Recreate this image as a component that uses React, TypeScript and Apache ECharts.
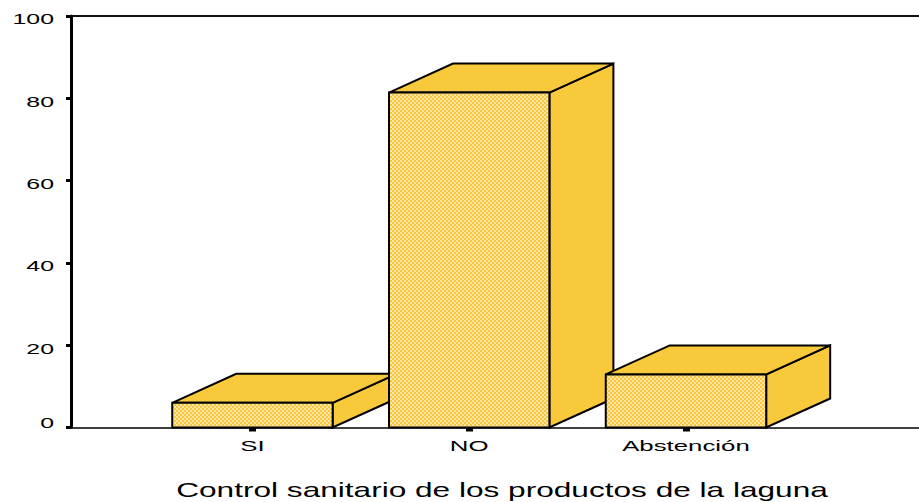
import React, { useEffect, useRef } from "react";
import * as echarts from "echarts";

const categories = ["SI", "NO", "Abstención"];
const values = [6.0, 81.4, 12.9];
const yTicks = [0, 20, 40, 60, 80, 100];
const axisTitle = "Control sanitario de los productos de la laguna";

const FONT = "Liberation Sans, Arial, sans-serif";
const X_MIN = -0.837;
const X_MAX = 3.075;

function makePattern(): any {
  const c = document.createElement("canvas");
  c.width = 4;
  c.height = 4;
  const ctx = c.getContext("2d");
  if (!ctx) return "#F9D466";
  ctx.fillStyle = "#F8C73E";
  ctx.fillRect(0, 0, 4, 4);
  ctx.fillStyle = "#FCE6A4";
  ctx.fillRect(0, 0, 2, 2);
  ctx.fillRect(2, 2, 2, 2);
  return { image: c, repeat: "repeat" };
}

export default function App() {
  const ref = useRef<HTMLDivElement>(null);
  useEffect(() => {
    if (!ref.current) return;
    const chart = echarts.init(ref.current, null, { renderer: "svg" });
    const pattern = makePattern();
    const dx = 64;
    const dy = 29;
    const side = "#F9C93C";
    const barData = values.map((v, i) => [i, v]);
    const catData = categories.map((c, i) => [i, 0]);
    const yTickData = yTicks.map((v) => [X_MIN, v]);
    chart.setOption({
      animation: false,
      backgroundColor: "#ffffff",
      grid: { left: 71, right: 0, top: 16, bottom: 74.5, containLabel: false },
      xAxis: [
        {
          type: "value",
          min: X_MIN,
          max: X_MAX,
          splitLine: { show: false },
          axisLine: { show: true, onZero: false, lineStyle: { color: "#000", width: 1.5 } },
          axisTick: {
            show: true,
            customValues: [0, 1, 2],
            length: 4,
            lineStyle: { color: "#000", width: 7 },
          },
          axisLabel: { show: false },
        },
        {
          type: "value",
          position: "top",
          min: X_MIN,
          max: X_MAX,
          splitLine: { show: false },
          axisLine: { show: true, onZero: false, lineStyle: { color: "#111", width: 2 } },
          axisTick: { show: false },
          axisLabel: { show: false },
        },
      ],
      yAxis: {
        type: "value",
        min: 0,
        max: 100,
        interval: 20,
        splitLine: { show: false },
        axisLine: { show: true, onZero: false, lineStyle: { color: "#000", width: 3 } },
        axisTick: { show: true, length: 5, lineStyle: { color: "#000", width: 3 } },
        axisLabel: { show: false },
      },
      graphic: [
        {
          type: "text",
          x: 502,
          y: 490,
          scaleX: 1.58,
          style: {
            text: axisTitle,
            fill: "#000",
            font: `20px ${FONT}`,
            textAlign: "center",
            textVerticalAlign: "middle",
          },
        },
      ],
      series: [
        {
          type: "custom",
          name: "bars",
          xAxisIndex: 0,
          yAxisIndex: 0,
          data: barData,
          encode: { x: 0, y: 1 },
          renderItem: (params: any, api: any) => {
            const x = api.value(0);
            const v = api.value(1);
            const top = api.coord([x, v]);
            const base = api.coord([x, 0]);
            const w = api.size([0.74, 0])[0];
            const x0 = top[0] - w / 2;
            const x1 = top[0] + w / 2;
            const yT = top[1];
            const yB = base[1];
            const stroke = { stroke: "#000", lineWidth: 2, lineJoin: "miter" };
            return {
              type: "group",
              children: [
                {
                  type: "polygon",
                  shape: {
                    points: [
                      [x1, yT],
                      [x1 + dx, yT - dy],
                      [x1 + dx, yB - dy],
                      [x1, yB],
                    ],
                  },
                  style: { fill: side, ...stroke },
                },
                {
                  type: "polygon",
                  shape: {
                    points: [
                      [x0, yT],
                      [x0 + dx, yT - dy],
                      [x1 + dx, yT - dy],
                      [x1, yT],
                    ],
                  },
                  style: { fill: side, ...stroke },
                },
                {
                  type: "rect",
                  shape: { x: x0, y: yT, width: w, height: yB - yT },
                  style: { fill: pattern, ...stroke },
                },
              ],
            };
          },
        },
        {
          type: "custom",
          name: "categoryLabels",
          xAxisIndex: 0,
          yAxisIndex: 0,
          data: catData,
          encode: { x: 0, y: 1 },
          renderItem: (params: any, api: any) => {
            const p = api.coord([api.value(0), 0]);
            return {
              type: "text",
              x: p[0],
              y: p[1] + 18,
              scaleX: 1.72,
              style: {
                text: categories[params.dataIndex],
                fill: "#000",
                font: `15px ${FONT}`,
                textAlign: "center",
                textVerticalAlign: "middle",
              },
            };
          },
        },
        {
          type: "custom",
          name: "yLabels",
          xAxisIndex: 0,
          yAxisIndex: 0,
          data: yTickData,
          encode: { x: 0, y: 1 },
          renderItem: (params: any, api: any) => {
            const v = api.value(1);
            const p = api.coord([X_MIN, v]);
            return {
              type: "text",
              x: p[0] - 17,
              y: p[1] + (v === 0 ? -5 : 3),
              scaleX: 1.66,
              style: {
                text: String(v),
                fill: "#000",
                font: `15px ${FONT}`,
                textAlign: "right",
                textVerticalAlign: "middle",
              },
            };
          },
        },
      ],
    });
    return () => chart.dispose();
  }, []);
  return (
    <div
      ref={ref}
      style={{ position: "fixed", left: 0, top: 0, width: 919, height: 502 }}
    />
  );
}
